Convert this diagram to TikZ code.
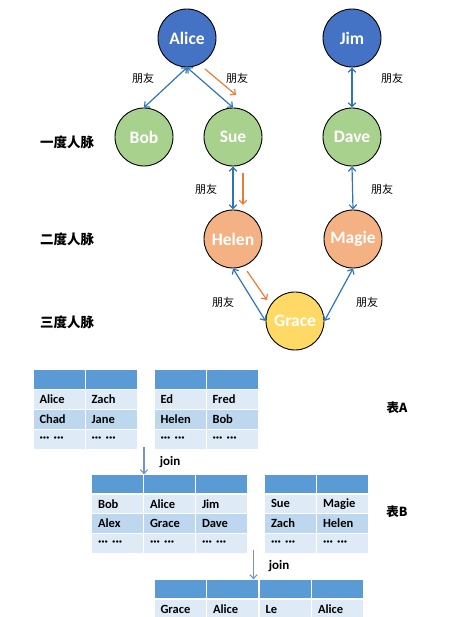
\documentclass[tikz,border=0pt]{standalone}
\usepackage{fontspec}
\setmainfont{Carlito}
\newfontfamily\cjk{Noto Sans CJK SC}
\usetikzlibrary{arrows.meta}
\definecolor{blueedge}{HTML}{2E75B6}
\definecolor{orangeedge}{HTML}{ED7D31}
\definecolor{joinedge}{HTML}{7193D0}
\definecolor{bluefill}{HTML}{4472C4}
\definecolor{greenfill}{HTML}{A9D18E}
\definecolor{orangefill}{HTML}{F4B183}
\definecolor{yellowfill}{HTML}{FFD966}
\definecolor{headfill}{HTML}{5B9BD5}
\definecolor{lightfill}{HTML}{DEEBF7}
\definecolor{midfill}{HTML}{BDD7EE}
\tikzset{
  person/.style={circle,draw=black,line width=0.9bp,minimum size=58bp,inner sep=0pt,
    text=white,font=\fontsize{17.5bp}{20bp}\selectfont\bfseries},
  hcell/.style={fill=headfill,minimum width=51bp,minimum height=18.3bp,inner sep=0pt},
  acell/.style={fill=lightfill,minimum height=18.3bp,text width=39bp,inner xsep=6bp,
    inner ysep=0pt,align=left,font=\fontsize{12.5bp}{14bp}\selectfont\bfseries},
  bcell/.style={acell,fill=midfill},
  friend/.style={font=\cjk\fontsize{11bp}{13bp}\selectfont},
  degree/.style={font=\cjk\fontsize{13.5bp}{16bp}\selectfont\bfseries},
  tablabel/.style={font=\cjk\fontsize{12.5bp}{15bp}\selectfont\bfseries},
  joinlabel/.style={font=\fontsize{13bp}{15bp}\selectfont\bfseries},
}
\begin{document}
\begin{tikzpicture}[>={Straight Barb[length=4bp,width=7.5bp]},line join=bevel,]
  \pgfsetlinewidth{1bp}
  \useasboundingbox (0bp,0bp) rectangle (455bp,617bp);
%%
  % Node: Alice
  \node[person,fill=bluefill] (alice) at (187bp,579bp) {Alice};
  % Node: Jim
  \node[person,fill=bluefill] (jim) at (352bp,579bp) {Jim};
  % Node: Bob
  \node[person,fill=greenfill] (bob) at (144bp,480bp) {Bob};
  % Node: Sue
  \node[person,fill=greenfill] (sue) at (233bp,480bp) {Sue};
  % Node: Dave
  \node[person,fill=greenfill] (dave) at (352bp,480bp) {Dave};
  % Node: Helen
  \node[person,fill=orangefill] (helen) at (233bp,378bp) {Helen};
  % Node: Magie
  \node[person,fill=orangefill] (magie) at (353bp,378bp) {Magie};
  % Node: Grace
  \node[person,fill=yellowfill] (grace) at (295bp,296bp) {Grace};
  % Node: degrees
  \node[degree] (deg1) at (67bp,475bp) {一度人脉};
  \node[degree] (deg2) at (67bp,378bp) {二度人脉};
  \node[degree] (deg3) at (67bp,295bp) {三度人脉};
  % Edge: Alice <-> Bob
  \draw [<->,blueedge,line width=1.2bp] (alice.south) -- (bob.north);
  \node[friend] (f1) at (143bp,539bp) {朋友};
  % Edge: Alice <-> Sue
  \draw [<->,blueedge,line width=1.2bp] (alice.south) -- (sue.north);
  \node[friend] (f2) at (237bp,539bp) {朋友};
  % Edge: Jim <-> Dave
  \draw [<->,blueedge,line width=1.2bp] (jim.south) -- (dave.north);
  \node[friend] (f3) at (392bp,539bp) {朋友};
  % Edge: Sue <-> Helen
  \draw [<->,blueedge,line width=1.2bp] (sue.south) -- (helen.north);
  \node[friend] (f4) at (206bp,428bp) {朋友};
  % Edge: Dave <-> Magie
  \draw [<->,blueedge,line width=1.2bp] (dave.south) -- (magie.north);
  \node[friend] (f5) at (382bp,428bp) {朋友};
  % Edge: Helen <-> Grace
  \draw [<->,blueedge,line width=1.2bp] (helen.south) -- (grace.west);
  \node[friend] (f6) at (223bp,315bp) {朋友};
  % Edge: Magie <-> Grace
  \draw [<->,blueedge,line width=1.2bp] (magie.south) -- (grace.east);
  \node[friend] (f7) at (367bp,315bp) {朋友};
  % Edge: path Alice -> Sue -> Helen -> Grace
  \coordinate (o1a) at (205bp,548bp);
  \coordinate (o1b) at (236bp,522bp);
  \coordinate (o2a) at (243bp,444bp);
  \coordinate (o2b) at (243bp,412bp);
  \coordinate (o3a) at (247bp,346bp);
  \coordinate (o3b) at (267bp,317bp);
  \draw [->,orangeedge,line width=1.2bp] (o1a) -- (o1b);
  \draw [->,orangeedge,line width=1.2bp] (o2a) -- (o2b);
  \draw [->,orangeedge,line width=1.2bp] (o3a) -- (o3b);
%
  % Node: table A, left
  \node[hcell] (a1h1) at (59bp,237.5bp) {};
  \node[hcell] (a1h2) at (111bp,237.5bp) {};
  \node[acell] (a1c11) at (59bp,217.5bp) {Alice};
  \node[acell] (a1c12) at (111bp,217.5bp) {Zach};
  \node[bcell] (a1c21) at (59bp,197.5bp) {Chad};
  \node[bcell] (a1c22) at (111bp,197.5bp) {Jane};
  \node[acell] (a1c31) at (59bp,177.5bp) {··· ···};
  \node[acell] (a1c32) at (111bp,177.5bp) {··· ···};
  % Node: table A, right
  \node[hcell] (a2h1) at (180bp,237.5bp) {};
  \node[hcell] (a2h2) at (232bp,237.5bp) {};
  \node[acell] (a2c11) at (180bp,217.5bp) {Ed};
  \node[acell] (a2c12) at (232bp,217.5bp) {Fred};
  \node[bcell] (a2c21) at (180bp,197.5bp) {Helen};
  \node[bcell] (a2c22) at (232bp,197.5bp) {Bob};
  \node[acell] (a2c31) at (180bp,177.5bp) {··· ···};
  \node[acell] (a2c32) at (232bp,177.5bp) {··· ···};
  \node[tablabel] (taba) at (397bp,209bp) {表A};
  % Node: table B, left
  \node[hcell] (b1h1) at (117.5bp,133bp) {};
  \node[hcell] (b1h2) at (169.5bp,133bp) {};
  \node[hcell] (b1h3) at (221.5bp,133bp) {};
  \node[acell] (b1c11) at (117.5bp,113.2bp) {Bob};
  \node[acell] (b1c12) at (169.5bp,113.2bp) {Alice};
  \node[acell] (b1c13) at (221.5bp,113.2bp) {Jim};
  \node[bcell] (b1c21) at (117.5bp,93.4bp) {Alex};
  \node[bcell] (b1c22) at (169.5bp,93.4bp) {Grace};
  \node[bcell] (b1c23) at (221.5bp,93.4bp) {Dave};
  \node[acell] (b1c31) at (117.5bp,73.6bp) {··· ···};
  \node[acell] (b1c32) at (169.5bp,73.6bp) {··· ···};
  \node[acell] (b1c33) at (221.5bp,73.6bp) {··· ···};
  % Node: table B, right
  \node[hcell] (b2h1) at (290.5bp,133bp) {};
  \node[hcell] (b2h2) at (342.5bp,133bp) {};
  \node[acell] (b2c11) at (290.5bp,113.2bp) {Sue};
  \node[acell] (b2c12) at (342.5bp,113.2bp) {Magie};
  \node[bcell] (b2c21) at (290.5bp,93.4bp) {Zach};
  \node[bcell] (b2c22) at (342.5bp,93.4bp) {Helen};
  \node[acell] (b2c31) at (290.5bp,73.6bp) {··· ···};
  \node[acell] (b2c32) at (342.5bp,73.6bp) {··· ···};
  \node[tablabel] (tabb) at (397bp,105bp) {表B};
  % Node: table C
  \node[hcell] (c1h1) at (180bp,28bp) {};
  \node[hcell] (c1h2) at (232.5bp,28bp) {};
  \node[hcell] (c1h3) at (285bp,28bp) {};
  \node[hcell] (c1h4) at (337.5bp,28bp) {};
  \node[acell] (c1c11) at (180bp,8bp) {Grace};
  \node[acell] (c1c12) at (232.5bp,8bp) {Alice};
  \node[acell] (c1c13) at (285bp,8bp) {Le};
  \node[acell] (c1c14) at (337.5bp,8bp) {Alice};
  % Edge: table A -> table B
  \coordinate (j1a) at (144bp,170bp);
  \draw [->,joinedge,line width=1.1bp] (j1a) -- (j1a |- b1h1.north);
  \node[joinlabel] (join1) at (170bp,155bp) {join};
  % Edge: table B -> table C
  \coordinate (j2a) at (253.5bp,67bp);
  \draw [->,joinedge,line width=1.1bp] (j2a) -- (j2a |- c1h2.north);
  \node[joinlabel] (join2) at (279bp,51bp) {join};
%
\end{tikzpicture}
\end{document}
